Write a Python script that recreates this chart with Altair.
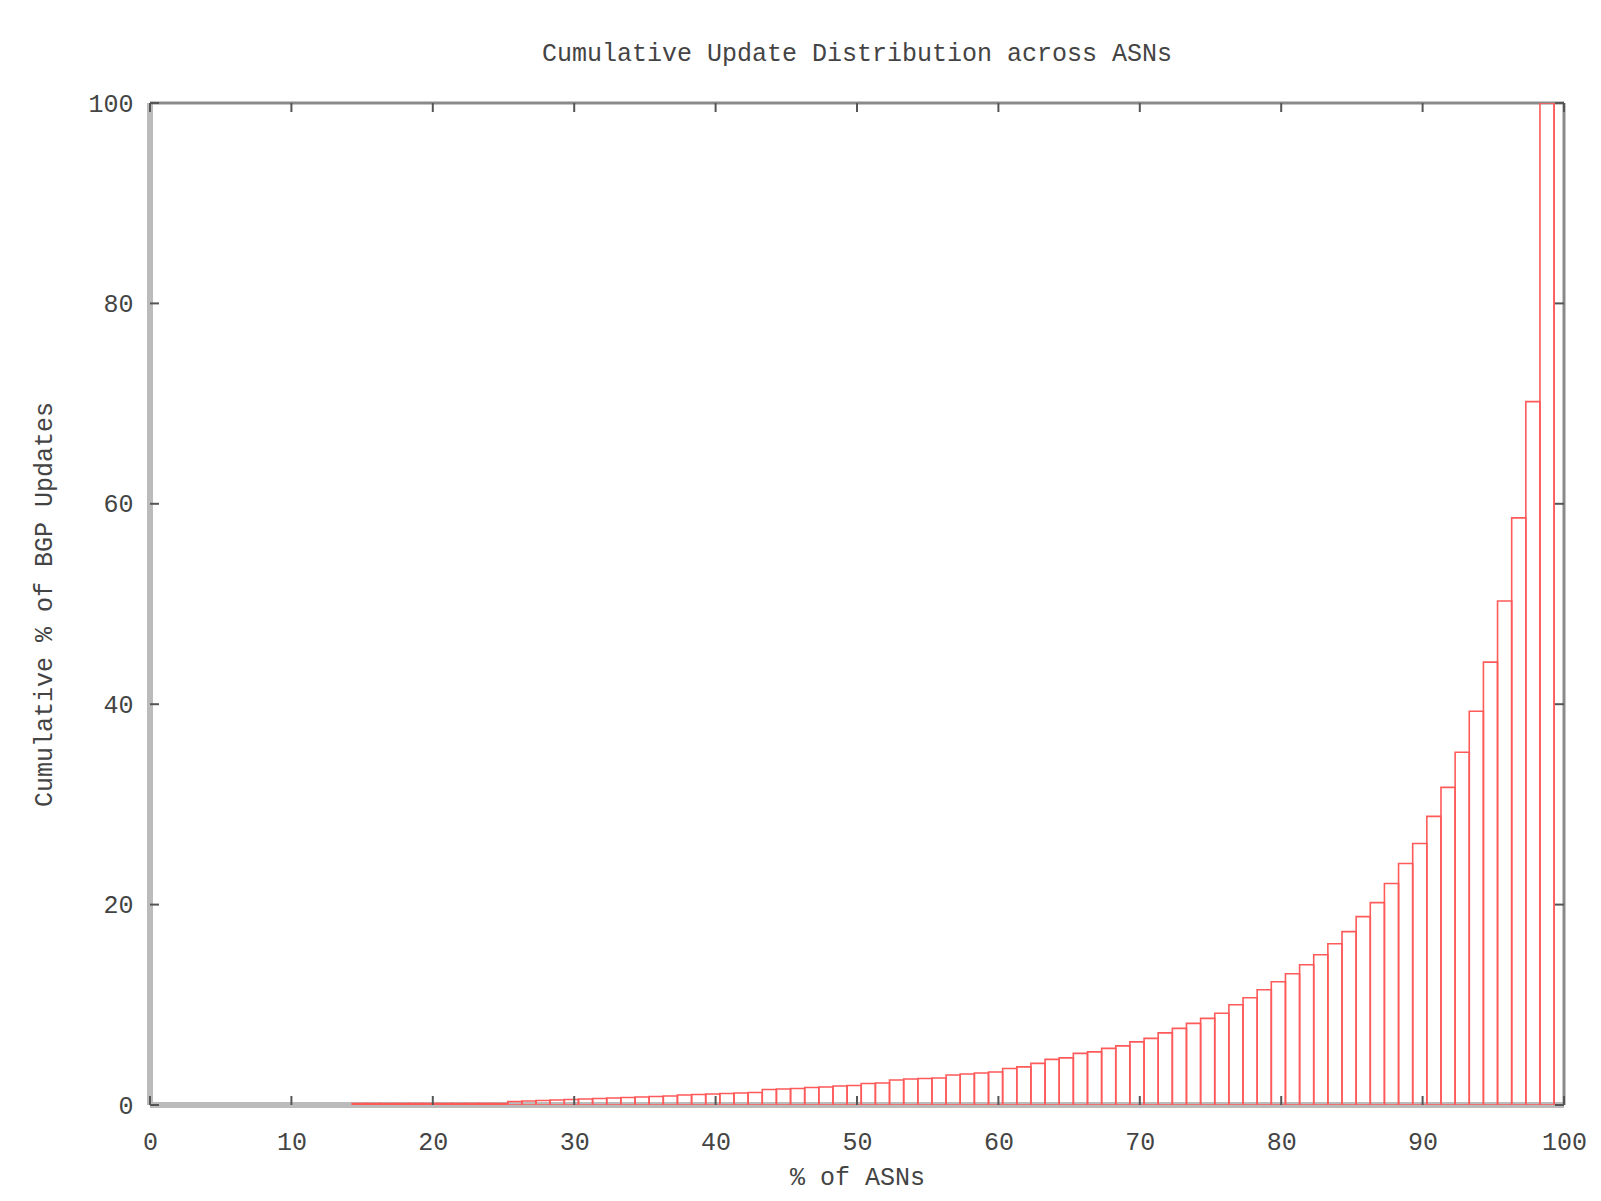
import altair as alt
import pandas as pd
import numpy as np

title_text = "Cumulative Update Distribution across ASNs"
x_title = "% of ASNs"
y_title = "Cumulative % of BGP Updates"

x_ticks = [0, 10, 20, 30, 40, 50, 60, 70, 80, 90, 100]
y_ticks = [0, 20, 40, 60, 80, 100]

# bins (percentile of ASNs) that carry a non-zero cumulative value
bin_index = list(range(14, 100))
cum_pct = [
    0.15, 0.15, 0.15, 0.15, 0.15, 0.15, 0.15, 0.15, 0.15, 0.15, 0.15,   # 14-24
    0.35, 0.4, 0.45, 0.5, 0.55, 0.6, 0.65, 0.7, 0.75, 0.8, 0.85,        # 25-35
    0.9, 1.0, 1.05, 1.1, 1.15, 1.2, 1.25, 1.55, 1.6, 1.65,              # 36-45
    1.75, 1.8, 1.9, 1.95, 2.15, 2.2, 2.5, 2.6, 2.65, 2.7,               # 46-55
    3.0, 3.1, 3.2, 3.3, 3.65, 3.8, 4.15, 4.55, 4.7, 5.15,               # 56-65
    5.3, 5.65, 5.9, 6.3, 6.65, 7.2, 7.65, 8.15, 8.65, 9.15,             # 66-75
    10.0, 10.7, 11.5, 12.3, 13.1, 14.0, 15.0, 16.1, 17.3, 18.8,         # 76-85
    20.2, 22.1, 24.1, 26.1, 28.8, 31.7, 35.2, 39.3, 44.2, 50.3,         # 86-95
    58.6, 70.2, 100.0, 100.0,                                           # 96-99
]

W, H = 1414, 1002
FONT = "Liberation Mono"
TXT = "#444444"

bin_left = np.array(bin_index) + 0.3
df = pd.DataFrame({"left": bin_left, "right": bin_left + 1.0, "value": cum_pct})

x_scale = alt.Scale(domain=[0, 100], nice=False, zero=False)
y_scale = alt.Scale(domain=[0, 100], nice=False, zero=False)

x_axis = alt.Axis(values=x_ticks, title=x_title, labelPadding=36,
                  labelBaseline="middle", labelFlush=False,
                  titleX=W / 2, titleY=71, titleBaseline="middle",
                  titleAlign="center")
y_axis = alt.Axis(values=y_ticks, title=y_title, labelPadding=17,
                  labelBaseline="middle", labelFlush=False,
                  titleX=-107, titleY=H / 2, titleAngle=270,
                  titleBaseline="middle", titleAlign="center")

# plot frame (gnuplot style border), drawn under the bars
frame = pd.DataFrame({"x0": [0], "x1": [100], "y0": [0], "y1": [100]})
left_b = alt.Chart(frame).mark_rule(color="#bbbbbb", strokeWidth=6).encode(
    x=alt.X("x0:Q", scale=x_scale, axis=x_axis),
    y=alt.Y("y0:Q", scale=y_scale, axis=y_axis), y2="y1:Q")
bottom_b = alt.Chart(frame).mark_rule(color="#bbbbbb", strokeWidth=6).encode(
    x=alt.X("x0:Q", scale=x_scale, axis=x_axis), x2="x1:Q",
    y=alt.Y("y0:Q", scale=y_scale, axis=y_axis))
top_b = alt.Chart(frame).mark_rule(color="#8a8a8a", strokeWidth=3).encode(
    x=alt.X("x0:Q", scale=x_scale, axis=x_axis), x2="x1:Q",
    y=alt.Y("y1:Q", scale=y_scale, axis=y_axis))
right_b = alt.Chart(frame).mark_rule(color="#8a8a8a", strokeWidth=3).encode(
    x=alt.X("x1:Q", scale=x_scale, axis=x_axis),
    y=alt.Y("y0:Q", scale=y_scale, axis=y_axis), y2="y1:Q")

bars = alt.Chart(df).mark_rect(
    fill="#ffffff", fillOpacity=0, stroke="#ff5a5a", strokeWidth=1.6, clip=True
).encode(
    x=alt.X("left:Q", scale=x_scale, axis=x_axis),
    x2="right:Q",
    y=alt.Y("value:Q", scale=y_scale, axis=y_axis),
    y2=alt.datum(0),
)

xt = pd.DataFrame({"t": x_ticks})
yt = pd.DataFrame({"t": y_ticks})
TICK = "#555555"

xt_bottom = alt.Chart(xt).mark_rule(color=TICK, strokeWidth=2).encode(
    x=alt.X("t:Q", scale=x_scale, axis=x_axis), y=alt.value(H), y2=alt.value(H - 9))
xt_top = alt.Chart(xt).mark_rule(color=TICK, strokeWidth=2).encode(
    x=alt.X("t:Q", scale=x_scale, axis=x_axis), y=alt.value(0), y2=alt.value(9))
yt_left = alt.Chart(yt).mark_rule(color=TICK, strokeWidth=2).encode(
    y=alt.Y("t:Q", scale=y_scale, axis=y_axis), x=alt.value(0), x2=alt.value(9))
yt_right = alt.Chart(yt).mark_rule(color=TICK, strokeWidth=2).encode(
    y=alt.Y("t:Q", scale=y_scale, axis=y_axis), x=alt.value(W), x2=alt.value(W - 9))

chart = alt.layer(
    left_b, bottom_b, top_b, right_b, bars, xt_bottom, xt_top, yt_left, yt_right
).properties(
    width=W, height=H,
    autosize=alt.AutoSizeParams(type="none"),
    padding={"left": 142, "top": 95, "right": 29, "bottom": 92},
    title=alt.TitleParams(text=title_text, font=FONT, fontSize=25, color=TXT,
                          fontWeight="normal", anchor="middle", offset=13,
                          baseline="middle"),
).configure_view(stroke=None).configure_axis(
    grid=False, domain=False, ticks=False, tickSize=0,
    labelFont=FONT, labelFontSize=25, labelColor=TXT,
    titleFont=FONT, titleFontSize=25, titleColor=TXT, titleFontWeight="normal",
)

chart.save("out.html", embed_options={"renderer": "svg", "actions": False})
